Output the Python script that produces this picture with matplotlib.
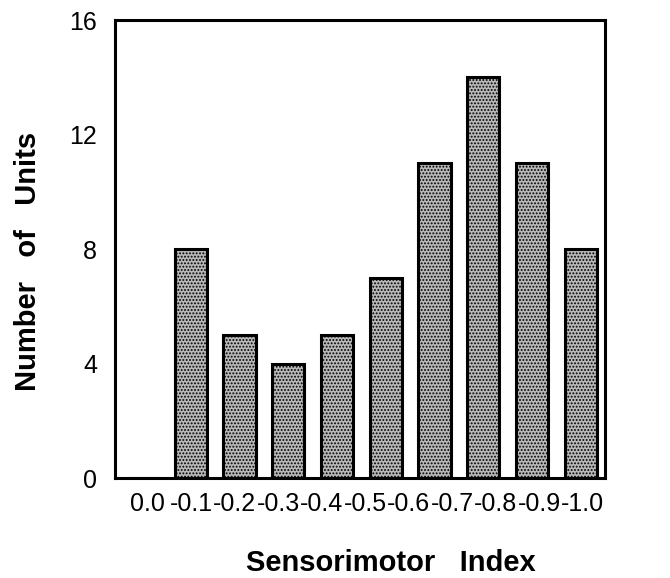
import matplotlib
matplotlib.use("Agg")
import matplotlib.pyplot as plt
import numpy as np

plt.rcParams['font.family'] = ['Liberation Sans', 'DejaVu Sans']
plt.rcParams['hatch.color'] = '#4a4a4a'
plt.rcParams['hatch.linewidth'] = 0.9

counts = [0, 8, 5, 4, 5, 7, 11, 14, 11, 8]
tick_labels = ["0.0", "-0.1", "-0.2", "-0.3", "-0.4", "-0.5",
               "-0.6", "-0.7", "-0.8", "-0.9", "-1.0"]
y_ticks = [0, 4, 8, 12, 16]

fig = plt.figure(figsize=(6.7, 5.78), dpi=100)
ax = fig.add_axes([0.172, 0.173, 0.731, 0.792])

x = np.arange(len(counts))
ax.bar(x, counts, width=0.66, facecolor='#b8b8b8', edgecolor='black',
       linewidth=2.2, hatch='.....')

ax.set_xlim(-0.55, 9.5)
ax.set_ylim(0, 16)
ax.set_yticks(y_ticks)
ax.set_yticklabels([str(v) for v in y_ticks])
label_pos = np.linspace(0.12, 9.04, len(tick_labels))
ax.set_xticks(label_pos)
ax.set_xticklabels(tick_labels)
ax.tick_params(axis='both', length=0, labelsize=18)
ax.tick_params(axis='x', pad=10)
ax.tick_params(axis='y', pad=13)
for s in ax.spines.values():
    s.set_linewidth(2.2)

ax.set_xlabel("Sensorimotor   Index", fontsize=21, fontweight='bold')
ax.xaxis.set_label_coords(0.563, -0.155)
ax.set_ylabel("Number   of   Units", fontsize=21, fontweight='bold')
ax.yaxis.set_label_coords(-0.15, 0.472)

fig.savefig("out.png", dpi=100)
